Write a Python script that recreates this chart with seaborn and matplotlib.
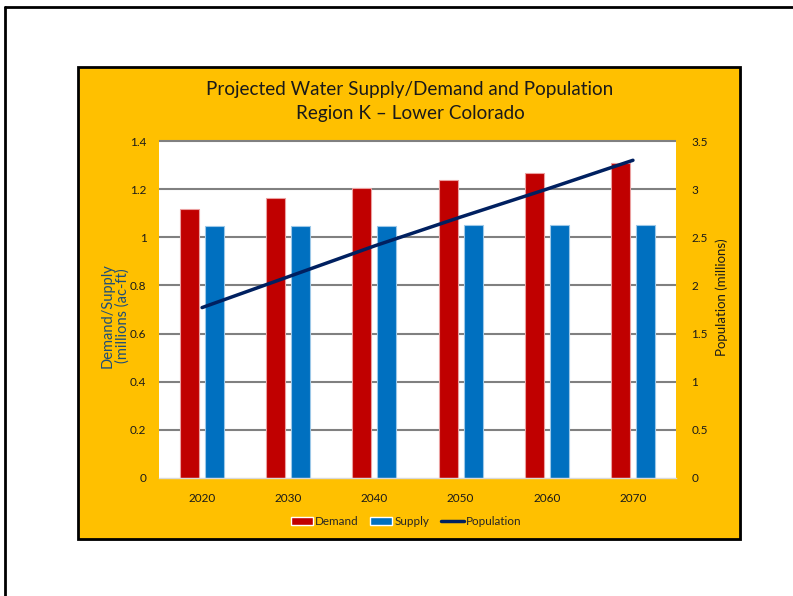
import numpy as np
import pandas as pd
import matplotlib.pyplot as plt
import seaborn as sns
from matplotlib.patches import Rectangle, Patch
from matplotlib.lines import Line2D

years = ["2020", "2030", "2040", "2050", "2060", "2070"]
demand = [1.118, 1.165, 1.206, 1.237, 1.268, 1.310]
supply = [1.046, 1.046, 1.048, 1.051, 1.051, 1.051]
population = [1.77, 2.09, 2.41, 2.71, 3.00, 3.30]

left_ticks = [0, 0.2, 0.4, 0.6, 0.8, 1.0, 1.2, 1.4]
right_ticks = [0, 0.5, 1.0, 1.5, 2.0, 2.5, 3.0, 3.5]

RED = "#C00000"
BLUE = "#0070C0"
NAVY = "#002060"
ORANGE = "#FFC000"

sns.set_theme(style="white")
plt.rcParams["font.family"] = ["Lato", "DejaVu Sans"]

df = pd.DataFrame({
    "Year": years * 2,
    "Value": demand + supply,
    "Series": ["Demand"] * len(years) + ["Supply"] * len(years),
})

fig = plt.figure(figsize=(7.93, 5.96), dpi=100)
fig.patch.set_facecolor("white")

# orange chart background box (with a faint shadow)
fig.add_artist(Rectangle((0.1009, 0.0922), 0.8348, 0.792, transform=fig.transFigure,
                         facecolor="#c8c8c8", edgecolor="none", zorder=-2))
fig.add_artist(Rectangle((0.0984, 0.0956), 0.8348, 0.792, transform=fig.transFigure,
                         facecolor=ORANGE, edgecolor="black", linewidth=2, zorder=-1))
# page frame lines (top and left)
fig.add_artist(Line2D([0.006, 1.0], [0.988, 0.988], transform=fig.transFigure,
                      color="black", linewidth=2))
fig.add_artist(Line2D([0.006, 0.006], [0.0, 0.988], transform=fig.transFigure,
                      color="black", linewidth=2))

ax = fig.add_axes([0.2005, 0.198, 0.652, 0.5654])
ax.set_facecolor("white")

sns.barplot(data=df, x="Year", y="Value", hue="Series",
            palette={"Demand": RED, "Supply": BLUE}, saturation=1,
            width=0.58, gap=0.24, legend=False, ax=ax, zorder=2)
for cont, ec in zip(ax.containers, ["#EBA0A0", "#9CC8E8"]):
    for bar in cont:
        bar.set_edgecolor(ec)
        bar.set_linewidth(0.8)

ax.set_xlim(-0.5, len(years) - 0.5)
ax.set_ylim(0, 1.4)
ax.set_yticks(left_ticks)
ax.set_yticklabels([f"{v:g}" for v in left_ticks])
ax.hlines(left_ticks[1:], -0.5, len(years) - 0.5, color="#808080", linewidth=1.5,
          zorder=1, clip_on=False)
ax.set_xlabel("")
ax.set_ylabel("")
ax.tick_params(axis="y", length=0, pad=9, labelsize=8.5, labelcolor="#1a1a1a")
ax.tick_params(axis="x", length=0, pad=11, labelsize=8.5, labelcolor="#1a1a1a")
for s in ["top", "left", "right"]:
    ax.spines[s].set_visible(False)
ax.spines["bottom"].set_color("#d9d9d9")
ax.spines["bottom"].set_linewidth(1)

ax2 = ax.twinx()
sns.lineplot(x=np.arange(len(years)), y=population, color=NAVY, linewidth=2.5, ax=ax2)
ax2.set_ylim(0, 3.5)
ax2.set_yticks(right_ticks)
ax2.set_yticklabels([f"{v:g}" for v in right_ticks])
ax2.tick_params(axis="y", length=0, pad=11, labelsize=8.5, labelcolor="#1a1a1a")
for s in ax2.spines.values():
    s.set_visible(False)
ax2.set_ylabel("")

fig.text(0.517, 0.8297, "Projected Water Supply/Demand and Population\nRegion K \u2013 Lower Colorado",
         ha="center", va="center", fontsize=13.6, color="#1a1a1a", linespacing=1.5)
fig.text(0.1455, 0.47, "Demand/Supply\n(millions (ac-ft)", rotation=90, ha="center", va="center",
         fontsize=10.5, color="#1F4E79", linespacing=1.05)
fig.text(0.910, 0.502, "Population (millions)", rotation=90, ha="center", va="center",
         fontsize=9.5, color="#1a1a1a")

handles = [Patch(facecolor=RED), Patch(facecolor=BLUE),
           Line2D([0], [0], color=NAVY, linewidth=2.5)]
fig.legend(handles, ["Demand", "Supply", "Population"], loc="center",
           bbox_to_anchor=(0.512, 0.1247), ncol=3, frameon=False, fontsize=8.4,
           handlelength=1.9, handleheight=0.7, handletextpad=0.2, columnspacing=1.0)

fig.savefig("out.png", dpi=100)
